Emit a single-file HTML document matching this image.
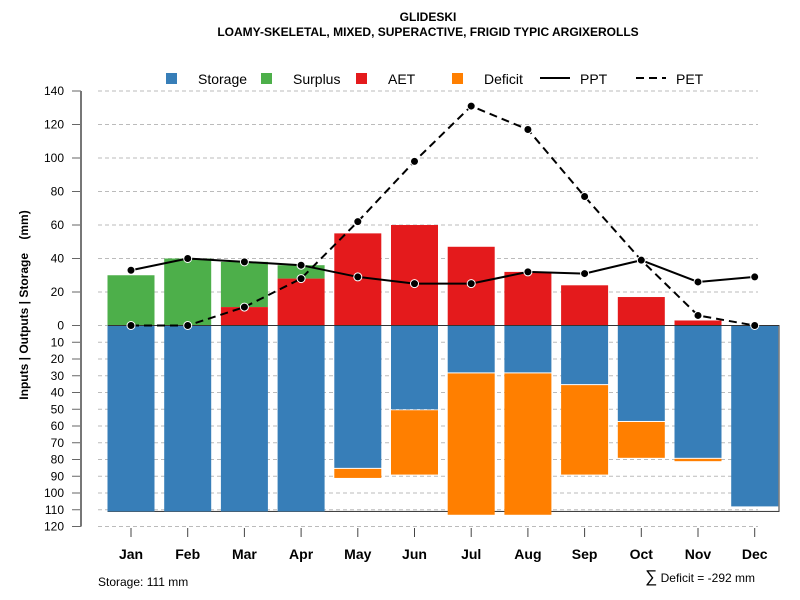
<!DOCTYPE html>
<html><head><meta charset="utf-8"><style>
body{margin:0;background:#fff;}
svg{display:block;font-family:"Liberation Sans",sans-serif;}
</style></head><body>
<svg id="c" width="800" height="600" xmlns="http://www.w3.org/2000/svg">
<text x="428" y="21" text-anchor="middle" font-size="12" font-weight="bold">GLIDESKI</text>
<text x="428" y="36" text-anchor="middle" font-size="12" font-weight="bold">LOAMY-SKELETAL, MIXED, SUPERACTIVE, FRIGID TYPIC ARGIXEROLLS</text>
<g id="legend"></g>
<g id="grid"></g><g id="bars"></g><g id="lines"></g><g id="axes"></g>
<text transform="translate(28,305) rotate(-90)" text-anchor="middle" font-size="12" font-weight="bold">Inputs | Outputs | Storage&#160;&#160;&#160;&#160;(mm)</text>
<text x="98" y="586" font-size="12">Storage: 111 mm</text>
<text x="755" y="582" text-anchor="end" font-size="12"><tspan font-size="17">∑</tspan> Deficit = -292 mm</text>
</svg>
<script>
const months=["Jan","Feb","Mar","Apr","May","Jun","Jul","Aug","Sep","Oct","Nov","Dec"];
const storageDepth=[111,111,111,111,85,50,28,28,35,57,79,108];
const deficit=[0,0,0,0,6,39,85,85,54,22,2,0];
const aet=[0,0,11,28,55,60,47,32,24,17,3,0];
const surplusTop=[30,40,38,36,0,0,0,0,0,0,0,0];
const ppt=[33,40,38,36,29,25,25,32,31,39,26,29];
const pet=[0,0,11,28,62,98,131,117,77,39,6,0];
const posTicks=[0,20,40,60,80,100,120,140];
const negTicks=[10,20,30,40,50,60,70,80,90,100,110,120];
const storageMax=111;
const NS="http://www.w3.org/2000/svg";
const y0=325.5,k=1.675;
const yU=v=>y0-v*k, yD=v=>y0+v*k;
const xC=i=>131+i*56.7, bw=47;
function mk(p,t,a){const e=document.createElementNS(NS,t);for(const q in a)e.setAttribute(q,a[q]);document.getElementById(p).appendChild(e);return e;}
posTicks.concat(negTicks.map(v=>-v)).forEach(v=>{const y=v>=0?yU(v):yD(-v);
 const g=mk("grid","line",{x1:98,x2:758,y1:y,y2:y,stroke:"#bbb","stroke-dasharray":"4,3"});
 
 
 const t=mk("axes","line",{x1:72,x2:81,y1:y,y2:y,stroke:"#666"});
 
 
 const l=mk("axes","text",{x:64,y:y+4,"text-anchor":"end","font-size":12});l.textContent=Math.abs(v);
 
 
});
const ax=mk("axes","line",{x1:81,x2:81,y1:yU(140),y2:yD(120),stroke:"#777","stroke-width":2});


const bx=mk("bars","rect",{x:108,y:y0,width:671,height:storageMax*k,fill:"none",stroke:"#333","stroke-width":1});


months.forEach((m,i)=>{const x=xC(i)-bw/2;
 const b=mk("bars","rect",{x:x,y:y0,width:bw,height:storageDepth[i]*k,fill:"#377eb8"});
 
 
 if(deficit[i]>0){const d=mk("bars","rect",{x:x,y:yD(storageDepth[i])+1,width:bw,height:deficit[i]*k-1,fill:"#ff7f00"});
  
  }
 if(surplusTop[i]>aet[i]){const s=mk("bars","rect",{x:x,y:yU(surplusTop[i]),width:bw,height:(surplusTop[i]-aet[i])*k,fill:"#4daf4a"});
  
  }
 if(aet[i]>0){const a=mk("bars","rect",{x:x,y:yU(aet[i]),width:bw,height:aet[i]*k,fill:"#e41a1c"});
  
  }
 const t=mk("axes","line",{x1:xC(i),x2:xC(i),y1:528,y2:537,stroke:"#444"});
 
 
 const l=mk("axes","text",{x:xC(i),y:559,"text-anchor":"middle","font-size":14,"font-weight":"bold"});l.textContent=m;
 
 
});
const zl=mk("bars","line",{x1:108,x2:779,y1:y0,y2:y0,stroke:"#333"});


function series(vals,dash,name){
 const pl=mk("lines","polyline",{points:vals.map((v,i)=>xC(i)+","+yU(v)).join(" "),fill:"none",stroke:"#000","stroke-width":2,"stroke-dasharray":dash});
 
 
 vals.forEach((v,i)=>{const c=mk("lines","circle",{cx:xC(i),cy:yU(v),r:4,fill:"#000",stroke:"#fff","stroke-width":1});
  
  });
}
series(ppt,"none","ppt");
series(pet,"8,5","pet");
const items=[["Storage","#377eb8",166],["Surplus","#4daf4a",261],["AET","#e41a1c",356],["Deficit","#ff7f00",452]];
items.forEach(([n,c,x])=>{const r=mk("legend","rect",{x:x,y:73,width:11,height:11,fill:c});
 
 
 const t=mk("legend","text",{x:x+32,y:84,"font-size":14});t.textContent=n;
 
 });
[["PPT","none",540],["PET","8,5",636]].forEach(([n,d,x])=>{const l=mk("legend","line",{x1:x,x2:x+30,y1:78,y2:78,stroke:"#000","stroke-width":2,"stroke-dasharray":d});
 
 
 const t=mk("legend","text",{x:x+40,y:84,"font-size":14});t.textContent=n;
 
 });
</script>
</body></html>
